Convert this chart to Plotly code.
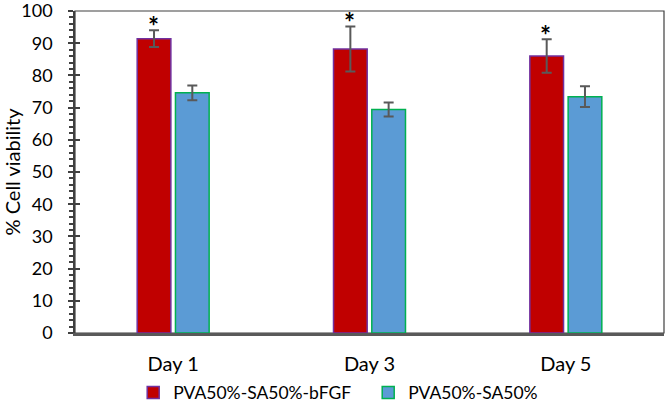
import plotly.graph_objects as go

days = ["Day 1", "Day 3", "Day 5"]
bfgf = [91.4, 88.2, 86.0]
bfgf_err = [2.6, 7.0, 5.2]
plain = [74.6, 69.4, 73.4]
plain_err = [2.3, 2.2, 3.2]
star_text = ["*", "*", "*"]

font = "Lato, 'Open Sans', sans-serif"

fig = go.Figure()
fig.add_trace(go.Bar(x=days, y=bfgf, name="PVA50%-SA50%-bFGF",
                     marker=dict(color="#C00000", line=dict(color="#7030A0", width=1.5)),
                     error_y=dict(type="data", array=bfgf_err, color="#595959",
                                  thickness=2, width=5)))
fig.add_trace(go.Bar(x=days, y=plain, name="PVA50%-SA50%",
                     marker=dict(color="#5B9BD5", line=dict(color="#00B050", width=1.5)),
                     error_y=dict(type="data", array=plain_err, color="#595959",
                                  thickness=2, width=5)))
# empty trace just so the inner-tick axis gets drawn
fig.add_trace(go.Scatter(x=days, y=[None] * len(days), yaxis="y2",
                         showlegend=False, hoverinfo="skip"))

# significance stars above the bFGF error bars
for d, v, e, s in zip(days, bfgf, bfgf_err, star_text):
    fig.add_annotation(x=d, y=v + e, text="<b>%s</b>" % s, showarrow=False,
                       xshift=-20, yshift=4, font=dict(size=26, color="black", family=font))

# top and right frame
fig.add_shape(type="rect", xref="paper", yref="paper", x0=0, x1=1, y0=0, y1=1,
              line=dict(color="#404040", width=1.2), layer="below")

fig.update_layout(
    width=666, height=404,
    margin=dict(l=75, r=2, t=11, b=71),
    plot_bgcolor="white", paper_bgcolor="white",
    barmode="group", bargap=0.61, bargroupgap=0.12,
    font=dict(family=font, size=18, color="black"),
    legend=dict(orientation="h", xref="container", yref="container",
                x=0.2, xanchor="left", y=0.028, yanchor="middle",
                bgcolor="rgba(0,0,0,0)",
                font=dict(size=17.5), itemwidth=30, traceorder="normal",
                entrywidth=190, entrywidthmode="pixels"),
    yaxis2=dict(overlaying="y", side="left", range=[0, 100], dtick=10,
                ticks="inside", ticklen=5, tickcolor="#404040", tickwidth=1.5,
                showticklabels=False, showgrid=False, showline=False,
                zeroline=False, automargin=False),
)
fig.layout.yaxis.update(range=[0, 100], dtick=10, showgrid=False, showline=True,
                        linecolor="#404040", linewidth=1.5,
                        ticks="outside", ticklen=5, tickcolor="#404040", tickwidth=1.5,
                        minor=dict(ticks="outside", dtick=2, ticklen=4, tickcolor="#404040"),
                        title=dict(text="% Cell viability", font=dict(size=20), standoff=10),
                        tickfont=dict(size=18), zeroline=False, automargin=False,
                        ticklabeloverflow="allow", ticklabelstandoff=12)
fig.update_xaxes(showline=True, linecolor="#595959", linewidth=2.5,
                 ticks="", tickfont=dict(size=20), automargin=False,
                 ticklabelstandoff=11)

# page body has a default 8px margin; drop it so the figure fills the window
fig.write_html("out.html", config={"displayModeBar": False},
               post_script="document.body.style.margin='0';")
